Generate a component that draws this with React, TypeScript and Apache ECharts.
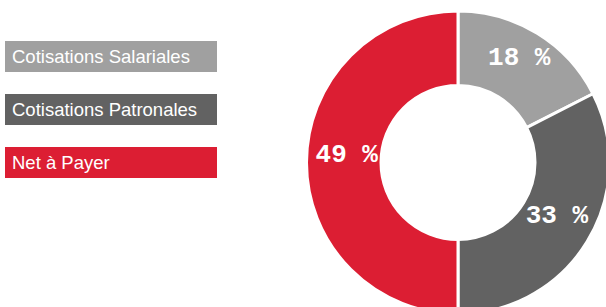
import React, { useEffect, useRef } from "react";
import * as echarts from "echarts";

const categories = ["Cotisations Salariales", "Cotisations Patronales", "Net à Payer"];
const values = [17.5, 32.5, 50];
const percentLabels = ["18 %", "33 %", "49 %"];
const colors = ["#a0a0a0", "#626262", "#dc1e33"];

export default function App() {
  const ref = useRef<HTMLDivElement>(null);
  useEffect(() => {
    document.body.style.margin = "0";
    const chart = echarts.init(ref.current!, null, { renderer: "svg" });
    const labelPadding = [
      [0, 0, 0, 0],
      [0, 2, 0, 0],
      [0, 0, 0, 12],
    ];
    const labelLift = ["s9", "s16", "s16"];
    const legendItems = categories.map((name, i) => ({
      type: "group",
      left: 5,
      top: 41 + i * 53,
      children: [
        { type: "rect", shape: { x: 0, y: 0, width: 212, height: 31 }, style: { fill: colors[i] } },
        {
          type: "text",
          x: 7,
          y: 15.5,
          style: {
            text: name,
            fill: "#ffffff",
            font: "18.5px 'Liberation Sans', Arial, sans-serif",
            verticalAlign: "middle",
          },
        },
      ],
    }));
    chart.setOption({
      animation: false,
      graphic: legendItems,
      series: [
        {
          type: "pie",
          center: [458, 162.5],
          radius: [77, 151.5],
          startAngle: 90,
          clockwise: true,
          avoidLabelOverlap: false,
          itemStyle: { borderColor: "#ffffff", borderWidth: 3 },
          label: {
            show: true,
            position: "inside",
            formatter: (p: any) =>
              "{t|" + percentLabels[p.dataIndex] + "}\n{" + labelLift[p.dataIndex] + "| }",
            color: "#ffffff",
            fontFamily: "'Liberation Mono', monospace",
            fontWeight: "bold",
            fontSize: 26,
            rich: {
              t: {
                color: "#ffffff",
                fontFamily: "'Liberation Mono', monospace",
                fontWeight: "bold",
                fontSize: 26,
                lineHeight: 26,
              },
              s9: { fontSize: 1, lineHeight: 9 },
              s16: { fontSize: 1, lineHeight: 16 },
            },
          },
          labelLine: { show: false },
          emphasis: { disabled: true },
          data: categories.map((name, i) => ({
            name,
            value: values[i],
            itemStyle: { color: colors[i] },
            label: { padding: labelPadding[i] },
          })),
        },
      ],
    });
    return () => chart.dispose();
  }, []);
  return <div ref={ref} style={{ width: 606, height: 307 }} />;
}
